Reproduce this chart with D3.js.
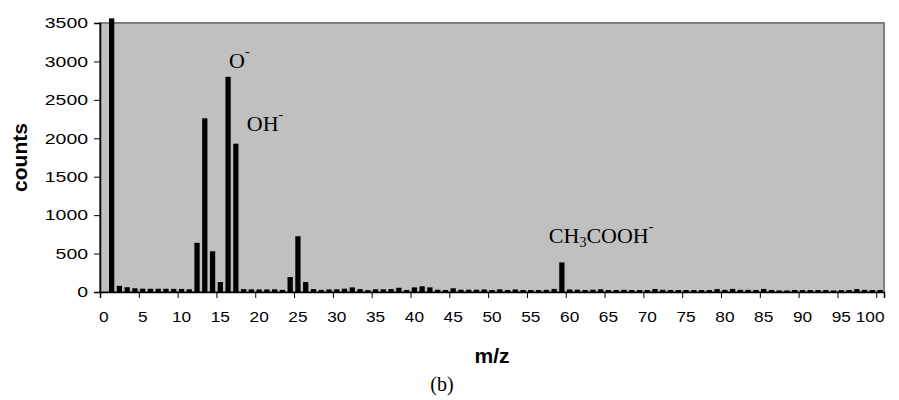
<!DOCTYPE html>
<html>
<head>
<meta charset="utf-8">
<script src="https://d3js.org/d3.v7.min.js"></script>
<style>
  body { margin: 0; background: #ffffff; }
</style>
</head>
<body>
<svg id="drawing_region"></svg>
<script>
// m/z categories 0..100
const mz = d3.range(0, 101);

// counts per m/z
const counts = [
    0, 3560, 80, 62, 48, 43, 42, 42, 42, 40,
    40, 35, 640, 2260, 530, 130, 2800, 1930, 38, 35,
    33, 33, 35, 28, 195, 725, 130, 38, 27, 33,
    35, 43, 60, 38, 25, 35, 35, 39, 55, 26,
    60, 74, 60, 30, 26, 48, 30, 30, 30, 33,
    26, 35, 26, 33, 26, 26, 26, 28, 40, 385,
    33, 30, 26, 30, 35, 26, 26, 28, 26, 26,
    26, 39, 28, 26, 26, 26, 26, 26, 26, 38,
    28, 40, 28, 28, 26, 40, 26, 20, 20, 26,
    26, 26, 26, 26, 20, 26, 26, 38, 28, 26,
    26
];

const yTicks = [0, 500, 1000, 1500, 2000, 2500, 3000, 3500];
const xTickLabels = d3.range(0, 101, 5);

// peak labels: [base, subscript, rest]
const peakMz = [16, 17, 59];
const peakNames = [["O", "", ""], ["OH", "", ""], ["CH", "3", "COOH"]];

const data = mz.map( (m, i) => ({ mz: m, value: counts[i] }) );

var config = {
    parent: '#drawing_region',
    width: 899,
    height: 400,
    margin: {top:23, right:15, bottom:108, left:100}
};

class BarChart {

    constructor( config, data ) {
        this.config = config;
        this.data = data;
        this.init();
    }

    init(){
        let self = this;

        self.svg = d3.select( self.config.parent )
            .attr('width', self.config.width)
            .attr('height', self.config.height);

        self.inner_width = self.config.width - self.config.margin.left - self.config.margin.right;
        self.inner_height = self.config.height - self.config.margin.top - self.config.margin.bottom;

        self.chart = self.svg.append('g')
            .attr('transform', `translate(${self.config.margin.left}, ${self.config.margin.top})`);

        self.xscale = d3.scaleBand()
            .domain( mz )
            .range( [0, self.inner_width] )
            .paddingInner(0.32)
            .paddingOuter(0.16);

        // category edges, for the tick marks between categories
        self.xedge = d3.scaleLinear()
            .domain( [0, mz.length] )
            .range( [0, self.inner_width] );

        self.yscale = d3.scaleLinear()
            .domain( [0, 3500] )
            .range( [self.inner_height, 0] );
    }

    update(){
        let self = this;
        self.render();
    }

    render(){
        let self = this;

        self.chart.append('rect')
            .attr('width', self.inner_width)
            .attr('height', self.inner_height)
            .attr('fill', '#c0c0c0')
            .attr('stroke', '#808080')
            .attr('stroke-width', 2);

        self.chart.selectAll('.bar')
            .data( self.data )
            .enter()
            .append('rect')
            .attr('class', 'bar')
            .attr('x', d => self.xscale(d.mz))
            .attr('width', self.xscale.bandwidth())
            .attr('y', d => self.yscale(d.value))
            .attr('height', d => self.inner_height - self.yscale(d.value))
            .attr('fill', 'black');

        // y axis
        const yaxis = self.chart.append('g')
            .call( d3.axisLeft(self.yscale).tickValues(yTicks).tickSize(6).tickPadding(6)
                .tickFormat(d3.format('d')) );
        yaxis.select('.domain').attr('stroke', 'black').attr('stroke-width', 1.5);
        yaxis.selectAll('text')
            .attr('font-family', 'Liberation Sans, Arial, sans-serif')
            .attr('font-size', '15px')
            .attr('fill', 'black')
            .attr('textLength', d => String(d).length * 10.8)
            .attr('lengthAdjust', 'spacingAndGlyphs');

        // x axis tick marks between categories
        const xticks = self.chart.append('g')
            .attr('transform', `translate(0, ${self.inner_height})`)
            .call( d3.axisBottom(self.xedge).tickValues(xTickLabels).tickSize(6).tickFormat('') );
        xticks.select('.domain').attr('stroke', 'black').attr('stroke-width', 1.5);

        // x axis labels centred on categories
        const xlabels = self.chart.append('g')
            .attr('transform', `translate(0, ${self.inner_height})`)
            .call( d3.axisBottom(self.xscale).tickValues(xTickLabels).tickSize(0).tickPadding(19) );
        xlabels.select('.domain').remove();
        xlabels.selectAll('text')
            .attr('font-family', 'Liberation Sans, Arial, sans-serif')
            .attr('font-size', '15px')
            .attr('fill', 'black')
            .attr('textLength', d => String(d).length * 9.6)
            .attr('lengthAdjust', 'spacingAndGlyphs');
        // keep the last label inside the chart
        xlabels.selectAll('.tick').filter(d => d === 100).select('text')
            .attr('dx', -10);

        // peak annotations
        const offsets = [[1, -9], [11, -13], [-13, -19]];
        peakMz.forEach( (m, i) => {
            const cx = self.xscale(m) + self.xscale.bandwidth() / 2;
            const top = self.yscale(counts[m]);
            const t = self.chart.append('text')
                .attr('x', cx + offsets[i][0])
                .attr('y', top + offsets[i][1])
                .attr('font-family', 'Liberation Serif, Times New Roman, serif')
                .attr('font-size', '22px')
                .attr('fill', 'black');
            const name = peakNames[i];
            t.append('tspan').text(name[0]);
            if (name[1]) {
                t.append('tspan').attr('font-size', '14px').attr('dy', 4).text(name[1]);
                t.append('tspan').attr('dy', -4).text(name[2]);
            }
            t.append('tspan').attr('font-size', '14px').attr('dy', -12).text('-');
        });

        // axis titles
        self.svg.append('text')
            .attr('transform', `translate(27, ${self.config.margin.top + self.inner_height / 2}) rotate(-90)`)
            .attr('text-anchor', 'middle')
            .attr('font-family', 'Liberation Sans, Arial, sans-serif')
            .attr('font-weight', 'bold')
            .attr('font-size', '21px')
            .text('counts');

        self.svg.append('text')
            .attr('x', self.config.margin.left + self.inner_width / 2)
            .attr('y', 363)
            .attr('text-anchor', 'middle')
            .attr('font-family', 'Liberation Sans, Arial, sans-serif')
            .attr('font-weight', 'bold')
            .attr('font-size', '21px')
            .text('m/z');

        self.svg.append('text')
            .attr('x', 442)
            .attr('y', 391)
            .attr('text-anchor', 'middle')
            .attr('font-family', 'Liberation Serif, Times New Roman, serif')
            .attr('font-size', '20px')
            .text('(b)');
    }
}

const bar_chart = new BarChart( config, data );
bar_chart.update();
</script>
</body>
</html>
